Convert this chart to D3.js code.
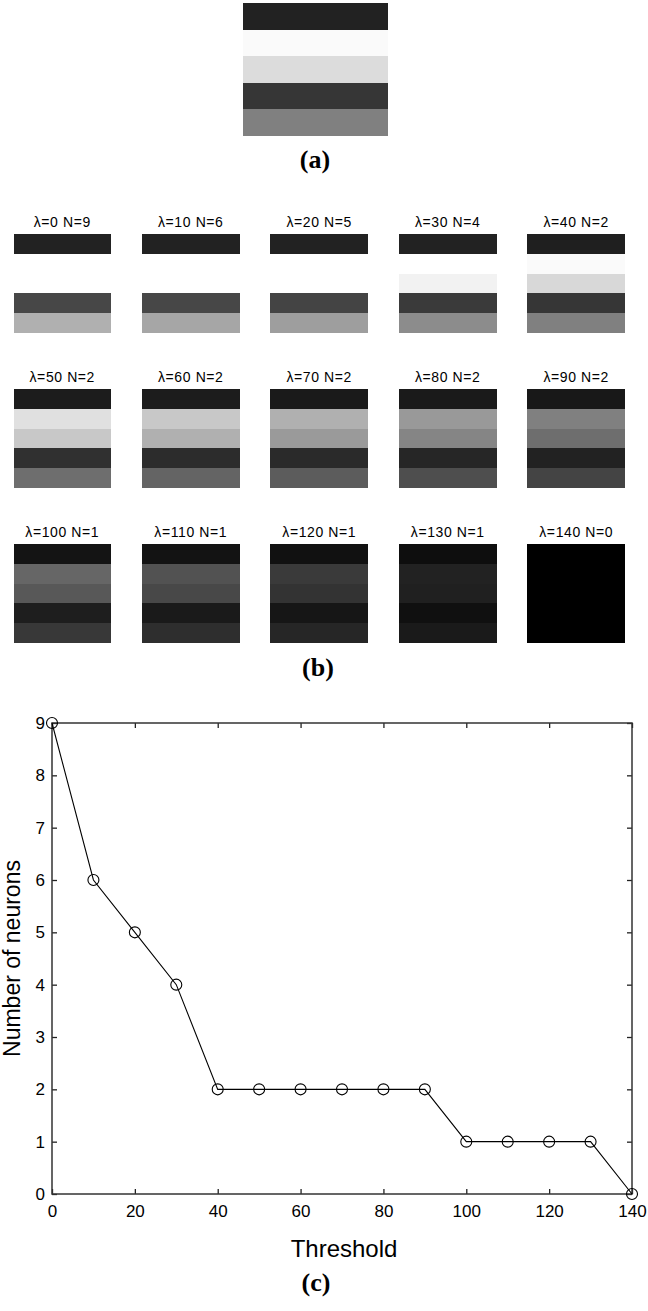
<!DOCTYPE html>
<html>
<head>
<meta charset="utf-8">
<script src="https://cdn.jsdelivr.net/npm/d3@7"></script>
<style>
  body { margin: 0; background: #fff; }
  svg { display: block; }
</style>
</head>
<body>
<div id="fig"></div>
<script>
// thresholds tried and the number of neurons kept for each
const thresholds = [0, 10, 20, 30, 40, 50, 60, 70, 80, 90, 100, 110, 120, 130, 140];
const neurons = [9, 6, 5, 4, 2, 2, 2, 2, 2, 2, 1, 1, 1, 1, 0];

// grey level (0-255) of the five stripes of the original pattern (a)
const originalStripes = [34, 250, 220, 54, 128];

// grey levels of the five stripes of each reconstruction (b), one row per threshold
const stripeShades = [
  [34, 255, 255, 71, 176],
  [34, 255, 255, 71, 166],
  [34, 255, 255, 68, 158],
  [34, 255, 242, 58, 140],
  [31, 250, 216, 54, 128],
  [28, 224, 200, 48, 110],
  [28, 200, 176, 44, 100],
  [26, 176, 154, 42, 92],
  [26, 153, 133, 38, 78],
  [24, 128, 110, 34, 68],
  [20, 102, 88, 30, 56],
  [19, 82, 72, 26, 46],
  [17, 58, 51, 22, 38],
  [14, 34, 32, 16, 26],
  [0, 0, 0, 0, 0]
];

const xTicks = [0, 20, 40, 60, 80, 100, 120, 140];
const yTicks = [0, 1, 2, 3, 4, 5, 6, 7, 8, 9];

const width = 648, height = 1311;
const svg = d3.select("#fig").append("svg")
  .attr("width", width)
  .attr("height", height);

const grey = (v) => d3.rgb(v, v, v).toString();
const sans = "'Liberation Sans', Arial, Helvetica, sans-serif";
const serif = "'Liberation Serif', 'Times New Roman', serif";

function drawStripes(g, shades, w, h) {
  const band = d3.scaleBand().domain(d3.range(shades.length)).range([0, h]);
  g.selectAll("rect")
    .data(shades)
    .join("rect")
    .attr("x", 0)
    .attr("y", (d, i) => band(i))
    .attr("width", w)
    .attr("height", band.bandwidth())
    .attr("fill", (d) => grey(d))
    .attr("shape-rendering", "crispEdges");
}

// (a) original pattern
const gA = svg.append("g").attr("transform", "translate(243,3)");
drawStripes(gA, originalStripes, 145, 133);

svg.append("text")
  .attr("x", 315).attr("y", 168)
  .attr("text-anchor", "middle")
  .style("font", `bold 26px ${serif}`)
  .text("(a)");

// (b) grid of reconstructions
const colScale = d3.scaleBand().domain(d3.range(5)).range([13.5, 625]).paddingInner(0.241);
const rowScale = d3.scaleBand().domain(d3.range(3)).range([234, 643]).paddingInner(0.361);

const tiles = svg.selectAll("g.tile")
  .data(thresholds)
  .join("g")
  .attr("class", "tile")
  .attr("transform", (d, i) => `translate(${colScale(i % 5)},${rowScale(Math.floor(i / 5))})`);

tiles.each(function (d, i) {
  const g = d3.select(this);
  drawStripes(g.append("g"), stripeShades[i], colScale.bandwidth(), rowScale.bandwidth());
  g.append("text")
    .attr("x", colScale.bandwidth() / 2)
    .attr("y", -7)
    .attr("text-anchor", "middle")
    .style("font", `14px ${sans}`)
    .style("letter-spacing", "0.6px")
    .attr("fill", "#000")
    .text(`λ=${d} N=${neurons[i]}`);
});

svg.append("text")
  .attr("x", 318).attr("y", 676)
  .attr("text-anchor", "middle")
  .style("font", `bold 26px ${serif}`)
  .text("(b)");

// (c) number of neurons vs threshold
const x = d3.scaleLinear().domain([0, 140]).range([52, 632]);
const y = d3.scaleLinear().domain([0, 9]).range([1194, 723]);

const axisStyle = (g) => {
  g.select(".domain").remove();
  g.selectAll(".tick line").attr("stroke", "#222").attr("stroke-width", 1.3);
  g.selectAll(".tick text").attr("fill", "#000").style("font", `17px ${sans}`);
};

svg.append("g")
  .attr("transform", `translate(0,${y(0)})`)
  .call(d3.axisBottom(x).tickValues(xTicks).tickSize(-5).tickPadding(11))
  .call(axisStyle);
svg.append("g")
  .attr("transform", `translate(0,${y(9)})`)
  .call(d3.axisTop(x).tickValues(xTicks).tickSize(-5).tickFormat(""))
  .call(axisStyle);
svg.append("g")
  .attr("transform", `translate(${x(0)},0)`)
  .call(d3.axisLeft(y).tickValues(yTicks).tickSize(-5).tickPadding(7))
  .call(axisStyle);
svg.append("g")
  .attr("transform", `translate(${x(140)},0)`)
  .call(d3.axisRight(y).tickValues(yTicks).tickSize(-5).tickFormat(""))
  .call(axisStyle);

svg.append("rect")
  .attr("x", x(0)).attr("y", y(9))
  .attr("width", x(140) - x(0)).attr("height", y(0) - y(9))
  .attr("fill", "none")
  .attr("stroke", "#333")
  .attr("stroke-width", 1.5);

const points = thresholds.map((t, i) => ({ t, n: neurons[i] }));

svg.append("path")
  .datum(points)
  .attr("fill", "none")
  .attr("stroke", "#000")
  .attr("stroke-width", 1.1)
  .attr("d", d3.line().x((d) => x(d.t)).y((d) => y(d.n)));

svg.selectAll("circle.pt")
  .data(points)
  .join("circle")
  .attr("class", "pt")
  .attr("cx", (d) => x(d.t))
  .attr("cy", (d) => y(d.n))
  .attr("r", 5.5)
  .attr("fill", "none")
  .attr("stroke", "#000")
  .attr("stroke-width", 1.1);

svg.append("text")
  .attr("x", (x(0) + x(140)) / 2 + 2).attr("y", 1257)
  .attr("text-anchor", "middle")
  .style("font", `24px ${sans}`)
  .attr("fill", "#000")
  .text("Threshold");

svg.append("text")
  .attr("transform", `translate(20,${(y(0) + y(9)) / 2}) rotate(-90)`)
  .attr("text-anchor", "middle")
  .style("font", `23px ${sans}`)
  .attr("fill", "#000")
  .text("Number of neurons");

svg.append("text")
  .attr("x", 316).attr("y", 1291)
  .attr("text-anchor", "middle")
  .style("font", `bold 26px ${serif}`)
  .text("(c)");
</script>
</body>
</html>
